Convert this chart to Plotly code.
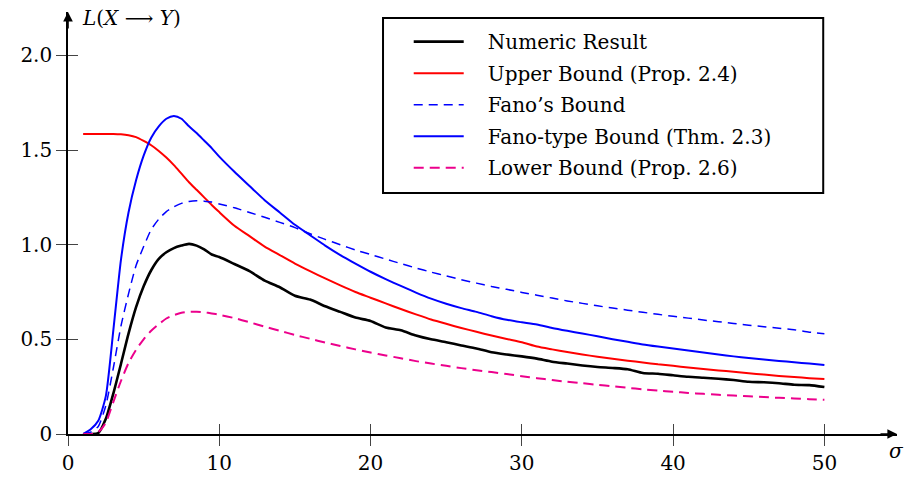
import plotly.graph_objects as go

sigma = [1, 1.5, 2, 2.5, 3, 3.5, 4, 4.5, 5, 5.5, 6, 6.5, 7, 7.5, 8, 8.5, 9, 9.5, 10,
         11, 12, 13, 14, 15, 16, 17, 18, 19, 20, 21, 22, 23, 24, 25, 26, 27, 28, 29, 30,
         31, 32, 33, 34, 35, 36, 37, 38, 39, 40, 41, 42, 43, 44, 45, 46, 47, 48, 49, 50]

numeric = [0, 0, 0.005, 0.08, 0.215, 0.37, 0.53, 0.67, 0.78, 0.865, 0.925, 0.96, 0.982, 0.995, 1.004, 0.995, 0.975, 0.948, 0.935,
           0.898, 0.86, 0.81, 0.775, 0.73, 0.71, 0.675, 0.645, 0.615, 0.597, 0.563, 0.548, 0.52, 0.50, 0.485, 0.468, 0.452, 0.432, 0.42, 0.41,
           0.398, 0.382, 0.372, 0.362, 0.354, 0.349, 0.342, 0.322, 0.318, 0.31, 0.302, 0.297, 0.292, 0.285, 0.276, 0.273, 0.268, 0.26, 0.258, 0.248]

upper = [1.585, 1.585, 1.585, 1.585, 1.585, 1.583, 1.578, 1.568, 1.548, 1.525, 1.495, 1.46, 1.42, 1.375, 1.33, 1.29, 1.25, 1.21, 1.172,
         1.10, 1.045, 0.99, 0.945, 0.90, 0.86, 0.822, 0.785, 0.75, 0.72, 0.69, 0.66, 0.632, 0.605, 0.582, 0.56, 0.54, 0.52, 0.502, 0.485,
         0.462, 0.447, 0.433, 0.42, 0.408, 0.397, 0.387, 0.378, 0.368, 0.36, 0.351, 0.343, 0.336, 0.329, 0.321, 0.314, 0.307, 0.301, 0.295, 0.29]

fano = [0, 0.01, 0.04, 0.15, 0.35, 0.57, 0.74, 0.89, 0.99, 1.08, 1.135, 1.175, 1.2, 1.218, 1.228, 1.232, 1.23, 1.225, 1.215,
        1.195, 1.17, 1.145, 1.118, 1.09, 1.058, 1.028, 1.0, 0.972, 0.948, 0.924, 0.9, 0.877, 0.855, 0.835, 0.815, 0.797, 0.779, 0.764, 0.748,
        0.733, 0.718, 0.703, 0.69, 0.677, 0.665, 0.654, 0.643, 0.632, 0.622, 0.612, 0.602, 0.593, 0.584, 0.575, 0.567, 0.559, 0.551, 0.538, 0.53]

fano_type = [0, 0.025, 0.07, 0.2, 0.55, 0.92, 1.17, 1.34, 1.47, 1.565, 1.625, 1.665, 1.68, 1.665, 1.625, 1.59, 1.55, 1.51, 1.465,
             1.385, 1.31, 1.235, 1.17, 1.105, 1.05, 0.995, 0.945, 0.9, 0.857, 0.818, 0.782, 0.747, 0.715, 0.688, 0.665, 0.645, 0.622, 0.603, 0.59,
             0.578, 0.56, 0.545, 0.531, 0.516, 0.501, 0.487, 0.473, 0.462, 0.452, 0.441, 0.431, 0.42, 0.41, 0.401, 0.394, 0.386, 0.379, 0.372, 0.364]

lower = [0, 0, 0.01, 0.06, 0.17, 0.28, 0.375, 0.445, 0.5, 0.545, 0.58, 0.61, 0.628, 0.64, 0.645, 0.646, 0.643, 0.637, 0.63,
         0.612, 0.59, 0.567, 0.545, 0.523, 0.503, 0.483, 0.465, 0.447, 0.43, 0.415, 0.4, 0.385, 0.372, 0.36, 0.348, 0.337, 0.327, 0.317, 0.305,
         0.295, 0.285, 0.276, 0.268, 0.26, 0.252, 0.244, 0.236, 0.229, 0.223, 0.217, 0.212, 0.207, 0.203, 0.199, 0.195, 0.191, 0.188, 0.184, 0.181]

x_ticks = [0, 10, 20, 30, 40, 50]
y_ticks = [0, 0.5, 1.0, 1.5, 2.0]
y_tick_text = ["0", "0.5", "1.0", "1.5", "2.0"]

series = [
    ("Numeric Result", numeric, "#000000", "solid", 2.6),
    ("Upper Bound (Prop. 2.4)", upper, "#ff0000", "solid", 2.0),
    ("Fano’s Bound", fano, "#0000ff", "9px,6px", 1.5),
    ("Fano-type Bound (Thm. 2.3)", fano_type, "#0000ff", "solid", 2.0),
    ("Lower Bound (Prop. 2.6)", lower, "#ec008c", "10px,6px", 2.0),
]

FONT = '"DejaVu Serif", "Liberation Serif", serif'
FS = 20
XMAX = 54.8
YMAX = 2.229
PAD = "\u00a0" * 3

fig = go.Figure()
for i, (name, vals, color, dash, w) in enumerate(series):
    fig.add_trace(go.Scatter(
        x=sigma, y=vals, mode="lines", name=PAD + name, legendgroup=f"g{i}",
        line=dict(color=color, dash=dash, width=w, shape="spline", smoothing=0.6),
    ))

# empty trace to activate the overlay axes that carry the inner half of the ticks
fig.add_trace(go.Scatter(x=[], y=[], xaxis="x2", yaxis="y2", showlegend=False, hoverinfo="skip"))

fig.update_layout(
    width=906, height=479,
    margin=dict(l=68, r=9, t=12, b=45, autoexpand=False),
    paper_bgcolor="white", plot_bgcolor="white",
    font=dict(family=FONT, size=FS, color="black"),
    showlegend=True,
    legend=dict(
        x=0.411, y=0.976, xanchor="left", yanchor="top",
        borderwidth=0, bgcolor="rgba(0,0,0,0)",
        font=dict(family=FONT, size=FS),
        itemwidth=50, tracegroupgap=2.5,
    ),
    shapes=[
        dict(type="rect", xref="paper", yref="paper", x0=0.38, x1=0.911, y0=0.571, y1=0.986,
             line=dict(color="black", width=2), fillcolor="rgba(0,0,0,0)", layer="above"),
    ],
    xaxis=dict(
        range=[0, XMAX], showgrid=False, zeroline=False, automargin=False,
        showline=True, linecolor="black", linewidth=1.6,
        tickmode="array", tickvals=x_ticks, ticks="outside", ticklen=10,
        tickwidth=1, tickcolor="#444", tickfont=dict(family=FONT, size=FS),
    ),
    yaxis=dict(
        range=[0, YMAX], showgrid=False, zeroline=False, automargin=False,
        showline=True, linecolor="black", linewidth=1.6,
        tickmode="array", tickvals=y_ticks, ticktext=y_tick_text,
        ticks="outside", ticklen=10, tickwidth=1, tickcolor="#444",
        tickfont=dict(family=FONT, size=FS),
    ),
    xaxis2=dict(
        overlaying="x", anchor="y", side="bottom", range=[0, XMAX], automargin=False,
        showgrid=False, zeroline=False, showline=False, showticklabels=False,
        tickmode="array", tickvals=x_ticks, ticks="inside", ticklen=10,
        tickwidth=1, tickcolor="#444",
    ),
    yaxis2=dict(
        overlaying="y", anchor="x", side="left", range=[0, YMAX], automargin=False,
        showgrid=False, zeroline=False, showline=False, showticklabels=False,
        tickmode="array", tickvals=y_ticks, ticks="inside", ticklen=10,
        tickwidth=1, tickcolor="#444",
    ),
    annotations=[
        dict(x=XMAX, y=0, xref="x", yref="y", ax=-18, ay=0, showarrow=True,
             arrowhead=2, arrowsize=1.2, arrowwidth=1.6, arrowcolor="black", text=""),
        dict(x=0, y=YMAX, xref="x", yref="y", ax=0, ay=18, showarrow=True,
             arrowhead=2, arrowsize=1.2, arrowwidth=1.6, arrowcolor="black", text=""),
        dict(x=0, y=YMAX, xref="x", yref="y", xanchor="left", yanchor="middle",
             xshift=12, yshift=-6, showarrow=False,
             text="<i>L</i>(<i>X</i> ⟶ <i>Y</i>)", font=dict(family=FONT, size=FS)),
        dict(x=XMAX, y=0, xref="x", yref="y", xanchor="center", yanchor="middle",
             xshift=-1, yshift=-17, showarrow=False,
             text="<i>σ</i>", font=dict(family=FONT, size=FS)),
    ],
)

fig.write_html("out.html")
